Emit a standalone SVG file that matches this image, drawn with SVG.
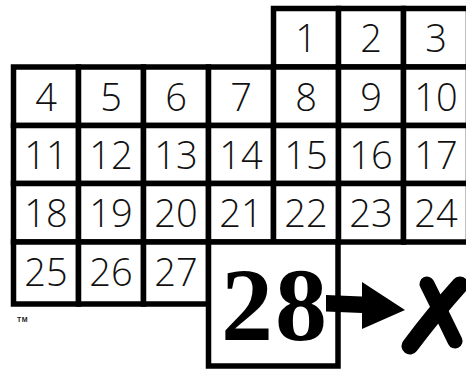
<svg xmlns="http://www.w3.org/2000/svg" width="466" height="369" viewBox="0 0 466 369">
<style>
.c{fill:#fff;stroke:#000;stroke-width:5.5}
.n{font-family:"Open Sans","DejaVu Sans",sans-serif;font-weight:300;font-size:38px;fill:#111;text-anchor:middle}
.b{font-family:"Liberation Serif","Times New Roman",serif;font-weight:bold;font-size:104px;letter-spacing:2px;fill:#000;text-anchor:middle}
</style>
<rect width="466" height="369" fill="#fff"/>
<g id="cell1"><rect class="c" x="273.5" y="8.5" width="65" height="58.5"/><text class="n" x="306" y="52">1</text></g>
<g id="cell2"><rect class="c" x="338.5" y="8.5" width="65" height="58.5"/><text class="n" x="371" y="52">2</text></g>
<g id="cell3"><rect class="c" x="403.5" y="8.5" width="65" height="58.5"/><text class="n" x="436" y="52">3</text></g>
<g id="cell4"><rect class="c" x="13.5" y="67" width="65" height="58.5"/><text class="n" x="46" y="110.5">4</text></g>
<g id="cell5"><rect class="c" x="78.5" y="67" width="65" height="58.5"/><text class="n" x="111" y="110.5">5</text></g>
<g id="cell6"><rect class="c" x="143.5" y="67" width="65" height="58.5"/><text class="n" x="176" y="110.5">6</text></g>
<g id="cell7"><rect class="c" x="208.5" y="67" width="65" height="58.5"/><text class="n" x="241" y="110.5">7</text></g>
<g id="cell8"><rect class="c" x="273.5" y="67" width="65" height="58.5"/><text class="n" x="306" y="110.5">8</text></g>
<g id="cell9"><rect class="c" x="338.5" y="67" width="65" height="58.5"/><text class="n" x="371" y="110.5">9</text></g>
<g id="cell10"><rect class="c" x="403.5" y="67" width="65" height="58.5"/><text class="n" x="436" y="110.5">10</text></g>
<g id="cell11"><rect class="c" x="13.5" y="125.5" width="65" height="58"/><text class="n" x="46" y="168.5">11</text></g>
<g id="cell12"><rect class="c" x="78.5" y="125.5" width="65" height="58"/><text class="n" x="111" y="168.5">12</text></g>
<g id="cell13"><rect class="c" x="143.5" y="125.5" width="65" height="58"/><text class="n" x="176" y="168.5">13</text></g>
<g id="cell14"><rect class="c" x="208.5" y="125.5" width="65" height="58"/><text class="n" x="241" y="168.5">14</text></g>
<g id="cell15"><rect class="c" x="273.5" y="125.5" width="65" height="58"/><text class="n" x="306" y="168.5">15</text></g>
<g id="cell16"><rect class="c" x="338.5" y="125.5" width="65" height="58"/><text class="n" x="371" y="168.5">16</text></g>
<g id="cell17"><rect class="c" x="403.5" y="125.5" width="65" height="58"/><text class="n" x="436" y="168.5">17</text></g>
<g id="cell18"><rect class="c" x="13.5" y="183.5" width="65" height="58.5"/><text class="n" x="46" y="227">18</text></g>
<g id="cell19"><rect class="c" x="78.5" y="183.5" width="65" height="58.5"/><text class="n" x="111" y="227">19</text></g>
<g id="cell20"><rect class="c" x="143.5" y="183.5" width="65" height="58.5"/><text class="n" x="176" y="227">20</text></g>
<g id="cell21"><rect class="c" x="208.5" y="183.5" width="65" height="58.5"/><text class="n" x="241" y="227">21</text></g>
<g id="cell22"><rect class="c" x="273.5" y="183.5" width="65" height="58.5"/><text class="n" x="306" y="227">22</text></g>
<g id="cell23"><rect class="c" x="338.5" y="183.5" width="65" height="58.5"/><text class="n" x="371" y="227">23</text></g>
<g id="cell24"><rect class="c" x="403.5" y="183.5" width="65" height="58.5"/><text class="n" x="436" y="227">24</text></g>
<g id="cell25"><rect class="c" x="13.5" y="242" width="65" height="62"/><text class="n" x="46" y="286">25</text></g>
<g id="cell26"><rect class="c" x="78.5" y="242" width="65" height="62"/><text class="n" x="111" y="286">26</text></g>
<g id="cell27"><rect class="c" x="143.5" y="242" width="65" height="62"/><text class="n" x="176" y="286">27</text></g>
<g id="cell28"><rect class="c" x="208.5" y="242" width="129.5" height="124"/><text class="b" x="275" y="340">28</text></g>
<g id="connectors">
<polygon points="326,295 362,296.5 362,282 405,310 362,329 362,313 326,311.5" fill="#000"/>
</g>
<g id="xmark" fill="none" stroke="#000" stroke-linecap="round">
<path d="M427 284 Q441 312 455 341" stroke-width="15"/>
<path d="M460 285 Q434 314 410 346" stroke-width="17"/>
</g>
<text x="17" y="322" font-family="Liberation Sans,Arial,sans-serif" font-weight="bold" font-size="7" letter-spacing="0.5" fill="#222">TM</text>
</svg>
